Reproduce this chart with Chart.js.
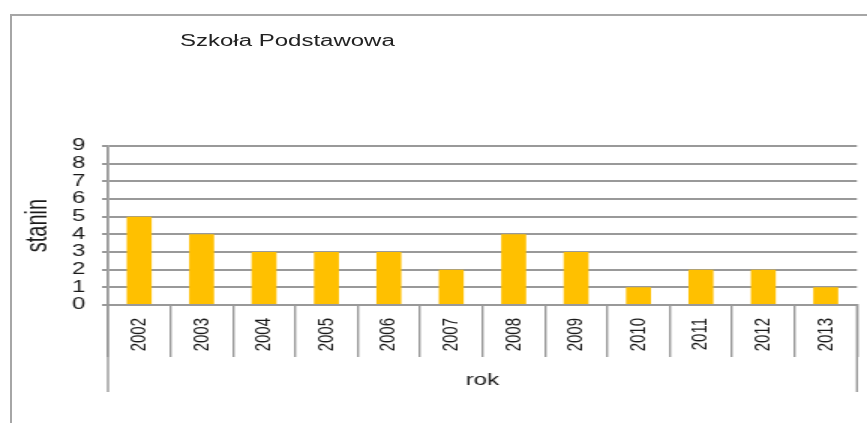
<!DOCTYPE html>
<html>
<head>
<meta charset="utf-8">
<script src="https://cdn.jsdelivr.net/npm/chart.js@4/dist/chart.umd.min.js"></script>
<style>
  body { margin: 0; background: #fff; overflow: hidden; }
  #frame { position: absolute; left: 10px; top: 14px; right: -10px; bottom: -10px;
           border-left: 2px solid #a6a6a6; border-top: 2px solid #a6a6a6; }
  /* the original picture is stretched sideways, so the chart is drawn narrow and widened */
  #wrap { position: absolute; left: 0; top: 0; width: 578px; height: 423px;
          transform: scaleX(1.5); transform-origin: 0 0; }
  #title { position: absolute; left: 120px; top: 32px; font: 16px "Liberation Sans", Arial, sans-serif;
           color: #222; white-space: nowrap; }
  canvas { position: absolute; left: 0; top: 0; }
</style>
</head>
<body>
<div id="frame"></div>
<div id="wrap">
  <div id="title">Szkoła Podstawowa</div>
  <canvas id="chart" width="578" height="423"></canvas>
</div>
<script>
const years = ['2002', '2003', '2004', '2005', '2006', '2007', '2008', '2009', '2010', '2011', '2012', '2013'];
const stanin = [5, 4, 3, 3, 3, 2, 4, 3, 1, 2, 2, 1];
const yTicks = [0, 1, 2, 3, 4, 5, 6, 7, 8, 9];

const gray = '#999999';
const textColor = '#1a1a1a';

// long lines at both ends of the category box
const boxEdges = {
  id: 'boxEdges',
  afterDraw(chart) {
    const a = chart.chartArea;
    const c = chart.ctx;
    c.save();
    c.strokeStyle = gray;
    c.lineWidth = 1.4;
    [a.left, a.right].forEach(x => {
      c.beginPath();
      c.moveTo(x, a.bottom);
      c.lineTo(x, 392);
      c.stroke();
    });
    c.restore();
  }
};

new Chart(document.getElementById('chart'), {
  type: 'bar',
  data: {
    labels: years,
    datasets: [{
      label: 'stanin',
      data: stanin,
      backgroundColor: '#FFC000',
      borderWidth: 0,
      categoryPercentage: 1,
      barPercentage: 0.4
    }]
  },
  options: {
    responsive: false,
    animation: false,
    layout: { padding: { left: 0, right: 6.7, top: 146, bottom: 0 } },
    plugins: { legend: { display: false }, tooltip: { enabled: false } },
    scales: {
      x: {
        afterFit(scale) { scale.height = 118; },
        grid: { offset: true, drawOnChartArea: false, tickLength: 52, color: gray, lineWidth: 1.4 },
        border: { color: gray, width: 2 },
        ticks: {
          minRotation: 90, maxRotation: 90, padding: -39, color: textColor, autoSkip: false,
          font: { family: '"Liberation Sans", Arial, sans-serif', size: 15 }
        },
        title: {
          display: true, text: 'rok', color: textColor, padding: { top: 0, bottom: 33 },
          font: { family: '"Liberation Sans", Arial, sans-serif', size: 16 }
        }
      },
      y: {
        min: 0, max: 9,
        afterFit(scale) { scale.width = 72; },
        afterBuildTicks(scale) { scale.ticks = yTicks.map(v => ({ value: v })); },
        grid: { color: gray, lineWidth: 2, tickLength: 4 },
        border: { color: gray, width: 1.8 },
        ticks: {
          stepSize: 1, autoSkip: false, padding: 11, color: textColor,
          font: { family: '"Liberation Sans", Arial, sans-serif', size: 16 }
        },
        title: {
          display: true, text: 'stanin', color: textColor, padding: { top: 13, bottom: 0 },
          font: { family: '"Liberation Sans", Arial, sans-serif', size: 20 }
        }
      }
    }
  },
  plugins: [boxEdges]
});
</script>
</body>
</html>
